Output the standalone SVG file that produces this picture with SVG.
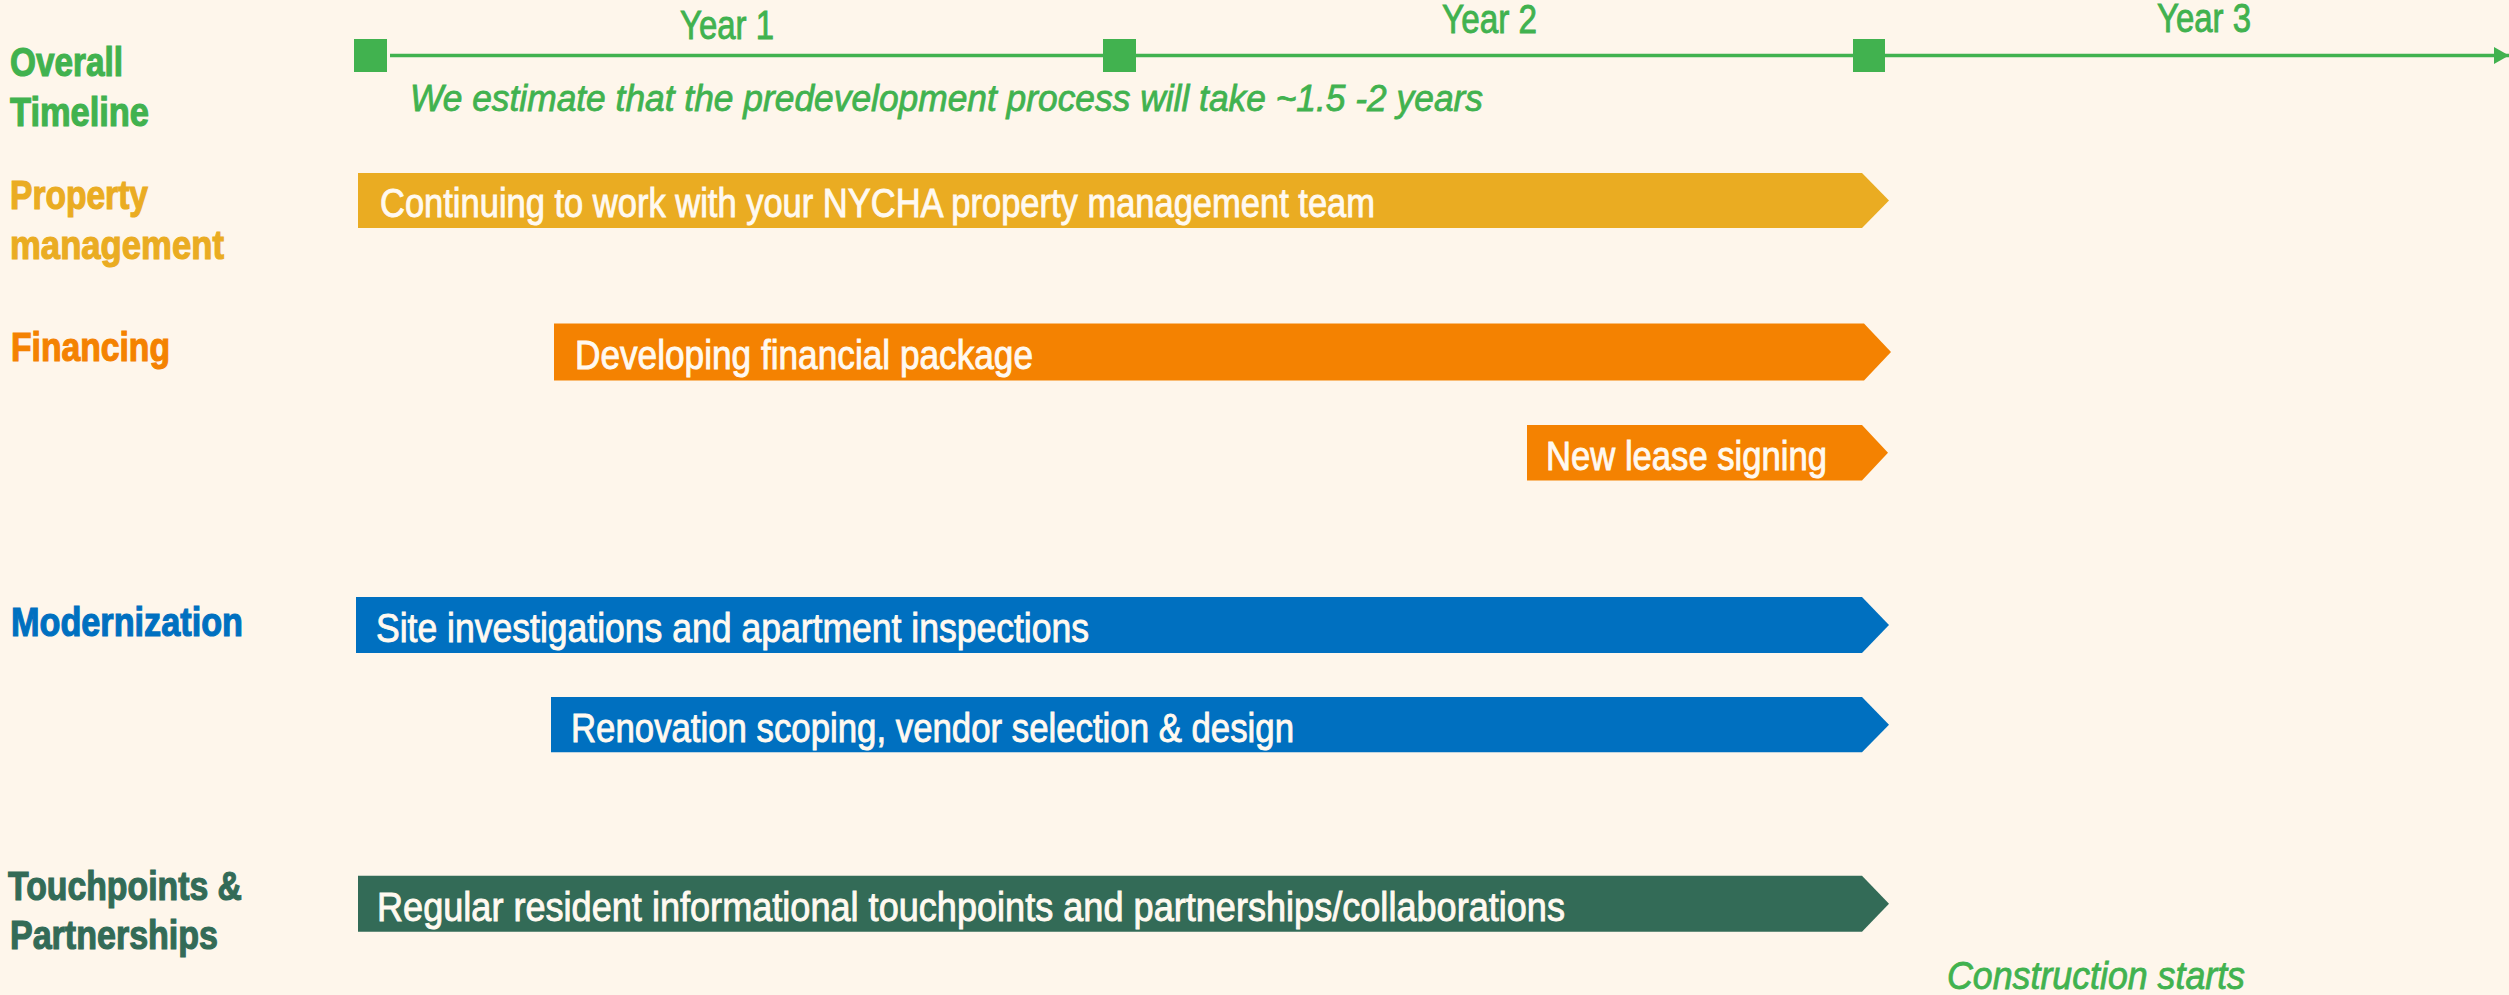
<svg xmlns="http://www.w3.org/2000/svg" width="2509" height="995" viewBox="0 0 2509 995">
<defs>
<style>
.lbl{font-family:"Liberation Sans Narrow","Liberation Sans",Arial,sans-serif;font-weight:bold;font-size:41px;stroke-width:1.2px}
.bt{font-family:"Liberation Sans Narrow","Liberation Sans",Arial,sans-serif;font-size:40px;fill:#FFF9F0;stroke:#FFF9F0;stroke-width:0.9px}
.yr{font-family:"Liberation Sans Narrow","Liberation Sans",Arial,sans-serif;font-size:40px;fill:#41B24F;stroke:#41B24F;stroke-width:0.9px}
.it{font-family:"Liberation Sans Narrow","Liberation Sans",Arial,sans-serif;font-style:italic;fill:#41B24F;stroke:#41B24F;stroke-width:0.8px}
.g{fill:#41B24F;stroke:#41B24F}
.yel{fill:#EAAC22;stroke:#EAAC22}
.ora{fill:#F48201;stroke:#F48201}
.blu{fill:#0070C0;stroke:#0070C0}
.dgr{fill:#336B57;stroke:#336B57}
.shape{stroke:none}
</style>
<marker id="arr" markerWidth="15" markerHeight="17" refX="15" refY="8.5" orient="auto" markerUnits="userSpaceOnUse">
<path d="M0,0 L15,8.5 L0,17 Z" fill="#41B24F"/>
</marker>
</defs>
<rect width="2509" height="995" fill="#FEF6EB"/>

<g id="connectors">
<line x1="390" y1="55.5" x2="2509" y2="55.5" stroke="#41B24F" stroke-width="3.5" marker-end="url(#arr)"/>
</g>

<g id="timeline">
<rect class="g shape" x="354" y="39" width="33" height="33"/>
<rect class="g shape" x="1103" y="39" width="33" height="33"/>
<rect class="g shape" x="1853" y="39" width="32" height="33"/>
<text class="yr" x="680" y="39" textLength="94" lengthAdjust="spacingAndGlyphs">Year 1</text>
<text class="yr" x="1442" y="33" textLength="95" lengthAdjust="spacingAndGlyphs">Year 2</text>
<text class="yr" x="2157" y="31.5" textLength="94" lengthAdjust="spacingAndGlyphs">Year 3</text>
<text class="it" font-size="37" x="410" y="111" textLength="1073" lengthAdjust="spacingAndGlyphs">We estimate that the predevelopment process will take ~1.5 -2 years</text>
</g>

<g id="label-overall">
<text class="lbl g" x="10" y="76" textLength="113" lengthAdjust="spacingAndGlyphs">Overall</text>
<text class="lbl g" x="10" y="126" textLength="139" lengthAdjust="spacingAndGlyphs">Timeline</text>
</g>
<g id="label-property">
<text class="lbl yel" x="10" y="209" textLength="138" lengthAdjust="spacingAndGlyphs">Property</text>
<text class="lbl yel" x="10" y="259" textLength="214" lengthAdjust="spacingAndGlyphs">management</text>
</g>
<g id="label-financing">
<text class="lbl ora" x="11" y="361" textLength="159" lengthAdjust="spacingAndGlyphs">Financing</text>
</g>
<g id="label-modernization">
<text class="lbl blu" x="11" y="636" textLength="232" lengthAdjust="spacingAndGlyphs">Modernization</text>
</g>
<g id="label-touchpoints">
<text class="lbl dgr" x="8" y="900" textLength="234" lengthAdjust="spacingAndGlyphs">Touchpoints &amp;</text>
<text class="lbl dgr" x="10" y="949" textLength="208" lengthAdjust="spacingAndGlyphs">Partnerships</text>
</g>

<g id="bar-property">
<path class="yel shape" d="M358,173 L1862,173 L1889,200.5 L1862,228 L358,228 Z"/>
<text class="bt" x="380" y="216.5" textLength="995" lengthAdjust="spacingAndGlyphs">Continuing to work with your NYCHA property management team</text>
</g>
<g id="bar-financial">
<path class="ora shape" d="M554,323.5 L1864,323.5 L1891,352 L1864,380.5 L554,380.5 Z"/>
<text class="bt" x="575" y="369" textLength="458" lengthAdjust="spacingAndGlyphs">Developing financial package</text>
</g>
<g id="bar-lease">
<path class="ora shape" d="M1527,425 L1862,425 L1888,452.8 L1862,480.5 L1527,480.5 Z"/>
<text class="bt" x="1546" y="470" textLength="281" lengthAdjust="spacingAndGlyphs">New lease signing</text>
</g>
<g id="bar-site">
<path class="blu shape" d="M356,597 L1862,597 L1889,625 L1862,653 L356,653 Z"/>
<text class="bt" x="376" y="641.5" textLength="713" lengthAdjust="spacingAndGlyphs">Site investigations and apartment inspections</text>
</g>
<g id="bar-renovation">
<path class="blu shape" d="M551,697 L1862,697 L1889,724.7 L1862,752.3 L551,752.3 Z"/>
<text class="bt" x="571" y="741.5" textLength="723" lengthAdjust="spacingAndGlyphs">Renovation scoping, vendor selection &amp; design</text>
</g>
<g id="bar-touchpoints">
<path class="dgr shape" d="M358,875.7 L1862,875.7 L1889,903.7 L1862,931.7 L358,931.7 Z"/>
<text class="bt" x="377" y="920.5" textLength="1188" lengthAdjust="spacingAndGlyphs">Regular resident informational touchpoints and partnerships/collaborations</text>
</g>

<g id="construction">
<text class="it" font-size="38" x="1947" y="989" textLength="298" lengthAdjust="spacingAndGlyphs">Construction starts</text>
</g>
</svg>
